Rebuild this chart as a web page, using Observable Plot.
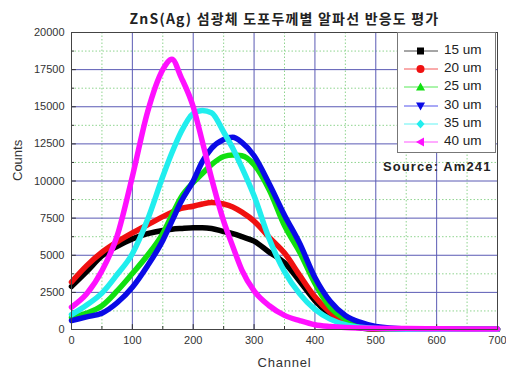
<!DOCTYPE html>
<html>
<head>
<meta charset="utf-8">
<script src="https://cdn.jsdelivr.net/npm/d3@7"></script>
<script src="https://cdn.jsdelivr.net/npm/@observablehq/plot@0.6"></script>
<style>
  body { margin: 0; background: #fff; }
  #wrap { position: relative; width: 506px; height: 374px; font-family: "Liberation Sans", Arial, sans-serif; }
  #legend { position: absolute; left: 397px; top: 32px; width: 99px; height: 121px; border: 1px solid #777; background: #fff; box-sizing: border-box; }
  .row { position: absolute; left: 0; height: 18px; width: 99px; }
  .row svg { position: absolute; left: 5px; top: 0; }
  .row span { position: absolute; left: 46px; top: 0px; font-size: 13.5px; color: #222; white-space: nowrap; }
  #source { position: absolute; left: 383px; top: 159px; font-size: 13px; font-weight: bold; color: #222; white-space: nowrap; letter-spacing: 1.1px; }
</style>
</head>
<body>
<div id="wrap">
  <div id="chart"></div>
  <div id="legend"></div>
  <div id="source">Source: Am241</div>
</div>
<script>
const titleText = "ZnS(Ag) 섬광체 도포두께별 알파선 반응도 평가";
const seriesNames = ["15 um", "20 um", "25 um", "30 um", "35 um", "40 um"];
const seriesColors = ["#000000", "#f01010", "#10e010", "#0a0ae6", "#20eeee", "#ff10ff"];
const seriesSymbols = ["square", "circle", "triangleUp", "triangleDown", "diamond", "triangleLeft"];

const channels = [0,25,50,75,100,125,150,165,180,200,215,230,250,265,280,300,325,350,375,400,425,450,475,500,550,600,650,700];

const counts15 = [2900,3900,4950,5600,6100,6450,6670,6750,6800,6850,6850,6800,6600,6450,6250,5950,5200,4500,3250,1950,1000,350,100,30,10,10,10,10];
const counts20 = [3200,4300,5200,5900,6500,7050,7600,7900,8150,8300,8450,8550,8450,8250,7900,7300,6200,5150,3650,2200,1150,450,150,40,10,10,10,10];
const counts25 = [800,1100,1600,2600,3770,5000,6460,7700,8900,9900,10500,11100,11650,11750,11700,11100,9400,7000,5200,3100,1500,700,300,100,20,10,10,10];
const counts30 = [600,850,1100,1800,2850,4300,6000,7300,8600,10000,11300,12200,12800,12950,12600,11700,9800,7700,5800,3500,1900,950,480,200,40,10,10,10];
const counts35 = [1000,1650,2450,3700,5100,7400,10300,11900,13300,14550,14750,14600,13300,12200,10900,9000,6100,3900,2400,1350,700,330,150,60,20,10,10,10];
const counts40 = [1500,2400,3950,6300,10300,14650,17500,18200,17000,15000,12650,10200,7300,5600,4000,2600,1600,950,600,320,200,130,100,80,60,50,40,40];

const xTicks = [0,100,200,300,400,500,600,700];
const xMinor = [50,150,250,350,450,550,650];
const yTicks = [0,2500,5000,7500,10000,12500,15000,17500,20000];
const yMinor = [1250,3750,6250,8750,11250,13750,16250,18750];

const allCounts = [counts15, counts20, counts25, counts30, counts35, counts40];
const data = seriesNames.flatMap((name, s) => channels.map((ch, i) => ({ch, v: allCounts[s][i], name})));

const chart = Plot.plot({
  width: 506,
  height: 374,
  marginLeft: 71,
  marginRight: 9,
  marginTop: 32,
  marginBottom: 45,
  style: {fontFamily: "'Liberation Sans', Arial, sans-serif", fontSize: "11px", color: "#333", background: "#fff"},
  x: {domain: [0, 700], ticks: xTicks, tickSize: 0, tickPadding: 7, tickFormat: d => String(d), label: null},
  y: {domain: [0, 20000], ticks: yTicks, tickSize: 0, tickPadding: 7, tickFormat: d => String(d), label: null},
  color: {domain: seriesNames, range: seriesColors},
  marks: [
    Plot.ruleX(xMinor, {stroke: "#8fd48f", strokeDasharray: "1.5,2", strokeWidth: 1}),
    Plot.ruleY(yMinor, {stroke: "#8fd48f", strokeDasharray: "1.5,2", strokeWidth: 1}),
    Plot.ruleX(xTicks.slice(1, -1), {stroke: "#5a5ab4", strokeWidth: 1}),
    Plot.ruleY(yTicks.slice(1, -1), {stroke: "#5a5ab4", strokeWidth: 1}),
    Plot.ruleX(xTicks, {y1: 0, y2: 330, stroke: "#333"}),
    Plot.ruleX(xMinor, {y1: 0, y2: 200, stroke: "#333"}),
    Plot.ruleY(yTicks, {x1: 0, x2: 8, stroke: "#333"}),
    Plot.ruleY(yMinor, {x1: 0, x2: 5, stroke: "#333"}),
    Plot.line(data, {x: "ch", y: "v", z: "name", stroke: "name", strokeWidth: 5.5, curve: "monotone-x"}),
    Plot.frame({stroke: "#444"}),
    Plot.text([titleText], {frameAnchor: "top", dy: -18, fontSize: 14, fontWeight: "bold", fill: "#222", fontFamily: "'Noto Sans CJK KR', sans-serif"}),
    Plot.text(["Channel"], {frameAnchor: "bottom", dy: 37, fontSize: 13, fill: "#333"}),
    Plot.text(["Counts"], {frameAnchor: "left", dx: -54, rotate: -90, fontSize: 13, fill: "#333"})
  ]
});
document.getElementById("chart").appendChild(chart);
d3.select(chart).selectAll("text").each(function() {
  const t = this.textContent;
  if (t === titleText) this.style.letterSpacing = "1.2px";
  if (t === "Channel") this.style.letterSpacing = "0.8px";
});

const legend = document.getElementById("legend");
function symbolShape(sym, color) {
  const c = 17.5, m = 9;
  switch (sym) {
    case "square": return `<rect x="${c-3.5}" y="${m-3.5}" width="7" height="7" fill="${color}"/>`;
    case "circle": return `<circle cx="${c}" cy="${m}" r="4" fill="${color}"/>`;
    case "triangleUp": return `<polygon points="${c},${m-4.5} ${c+4.5},${m+3.5} ${c-4.5},${m+3.5}" fill="${color}"/>`;
    case "triangleDown": return `<polygon points="${c},${m+4.5} ${c+4.5},${m-3.5} ${c-4.5},${m-3.5}" fill="${color}"/>`;
    case "diamond": return `<polygon points="${c},${m-4.5} ${c+4},${m} ${c},${m+4.5} ${c-4},${m}" fill="${color}"/>`;
    case "triangleLeft": return `<polygon points="${c-4.5},${m} ${c+3.5},${m-4.5} ${c+3.5},${m+4.5}" fill="${color}"/>`;
  }
}
seriesNames.forEach((name, i) => {
  const row = document.createElement("div");
  row.className = "row";
  row.style.top = (9 + i * 18.2) + "px";
  row.innerHTML = `<svg width="36" height="18"><line x1="1" y1="9" x2="35" y2="9" stroke="${seriesColors[i]}" stroke-width="1" stroke-opacity="0.7"/>${symbolShape(seriesSymbols[i], seriesColors[i])}</svg><span>${name}</span>`;
  legend.appendChild(row);
});
</script>
</body>
</html>
